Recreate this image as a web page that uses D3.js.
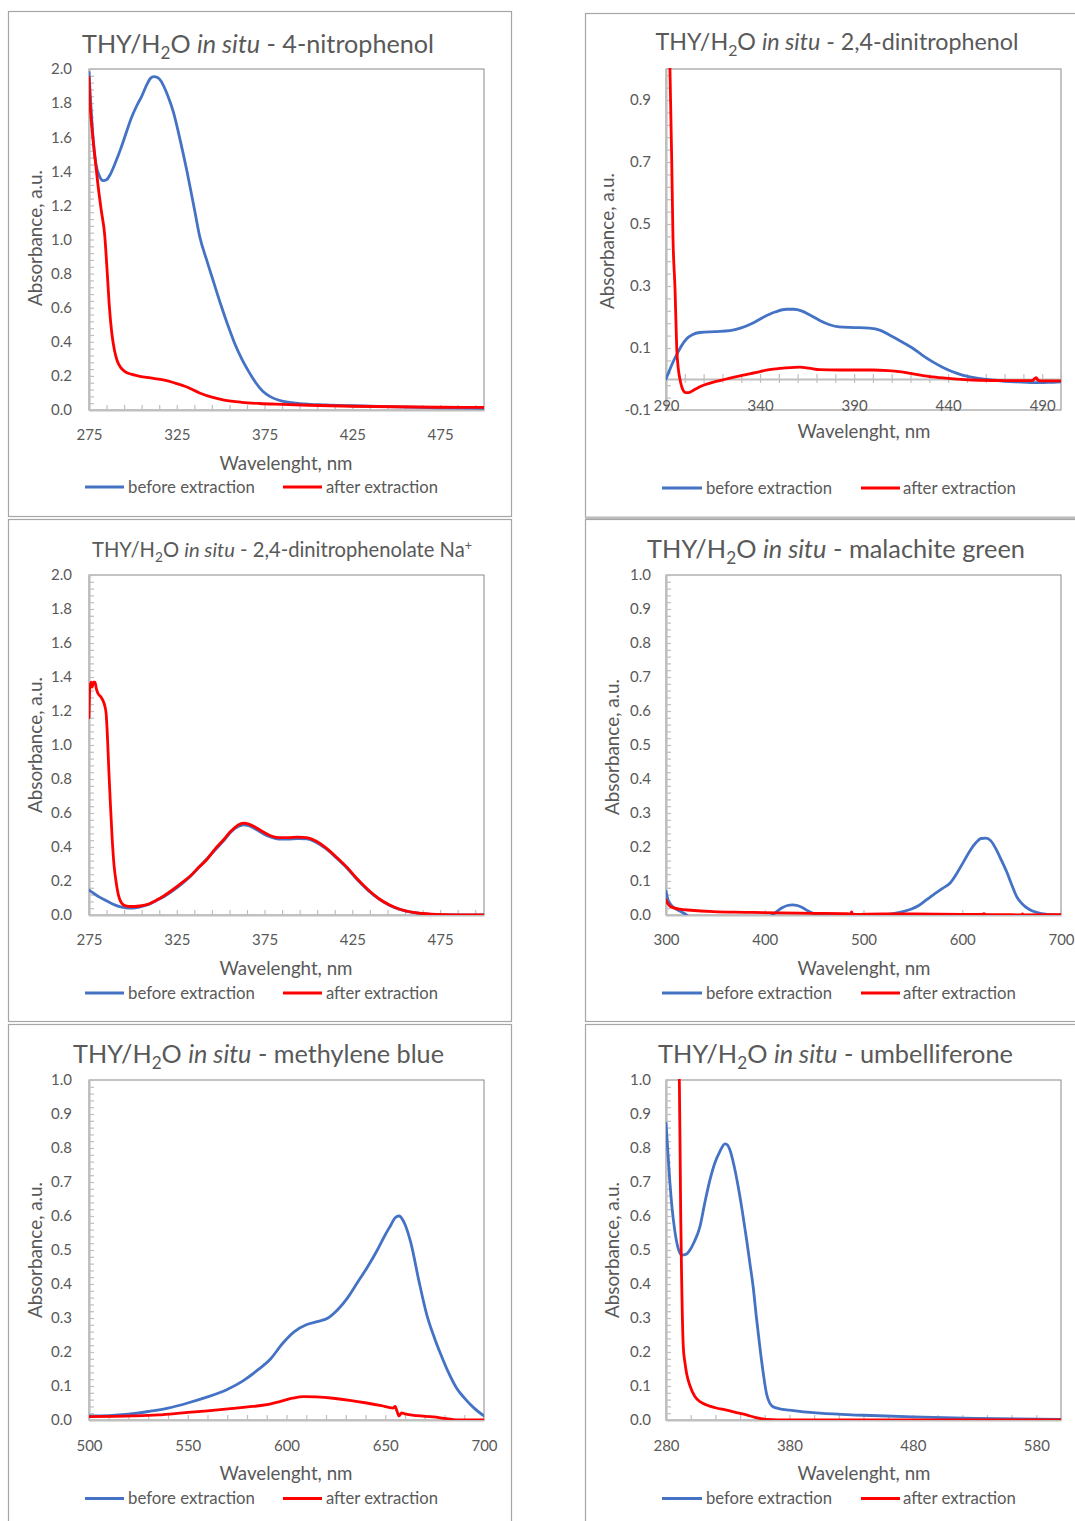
<!DOCTYPE html>
<html><head><meta charset="utf-8">
<script src="https://cdn.jsdelivr.net/npm/d3@7"></script>
<style>
body{margin:0;background:#fff}
svg{display:block}
text{font-family:Lato,'Open Sans',sans-serif;fill:#595959}
</style>
</head><body>
<svg id="c" width="1075" height="1521"></svg>
<script>
// ---------- DATA ----------
const seriesNames = ["before extraction", "after extraction"];
const axisTitleX = "Wavelenght, nm";
const axisTitleY = "Absorbance, a.u.";

// Panel 1: 4-nitrophenol
const nitroX = [275, 325, 375, 425, 475];
const nitroY = [0, 0.2, 0.4, 0.6, 0.8, 1.0, 1.2, 1.4, 1.6, 1.8, 2.0];
const nitroBefore = [[275,1.98],[276,1.80],[277,1.64],[278,1.52],[279,1.44],[281,1.37],[283,1.345],[285,1.35],[287,1.38],[290,1.45],[293,1.53],[296,1.62],[299,1.71],[302,1.78],[305,1.84],[308,1.91],[310,1.945],[312,1.955],[314,1.95],[316,1.93],[318,1.89],[320,1.84],[323,1.75],[327,1.58],[331,1.39],[335,1.18],[338,1.02],[342,0.88],[346,0.75],[350,0.62],[354,0.50],[358,0.39],[362,0.30],[366,0.225],[370,0.16],[374,0.11],[378,0.08],[385,0.052],[395,0.038],[410,0.03],[425,0.025],[450,0.018],[475,0.013],[500,0.01]];
const nitroAfter = [[275,1.95],[275.6,1.80],[277,1.62],[278.5,1.47],[280,1.33],[282,1.17],[284,1.02],[285.3,0.82],[286.5,0.62],[288,0.45],[289.5,0.35],[291,0.29],[293,0.25],[295.5,0.225],[299,0.21],[304,0.197],[310,0.188],[318,0.175],[324,0.158],[330,0.138],[338,0.10],[345,0.075],[352,0.058],[362,0.045],[372,0.038],[385,0.033],[400,0.028],[425,0.022],[450,0.019],[475,0.016],[500,0.015]];

// Panel 2: 2,4-dinitrophenol
const dnpX = [290, 340, 390, 440, 490];
const dnpY = [-0.1, 0.1, 0.3, 0.5, 0.7, 0.9];
const dnpBefore = [[290,0.0],[292,0.03],[294,0.058],[296,0.082],[298,0.105],[301,0.13],[304,0.143],[308,0.15],[316,0.153],[324,0.156],[330,0.165],[336,0.18],[342,0.2],[348,0.216],[354,0.225],[358,0.225],[362,0.22],[367,0.205],[372,0.188],[377,0.175],[382,0.168],[390,0.166],[398,0.164],[404,0.157],[410,0.138],[416,0.118],[421,0.10],[426,0.078],[431.6,0.056],[437,0.038],[442,0.024],[448,0.012],[456,0.002],[465,-0.004],[475,-0.009],[486,-0.012],[493,-0.011],[500,-0.009]];
const dnpAfter = [[290.8,1.3],[292.1,1.0],[293,0.72],[293.7,0.46],[294.8,0.29],[295.7,0.10],[296.6,0.03],[297.4,0.0],[299,-0.035],[300.5,-0.044],[302,-0.044],[305,-0.035],[308,-0.025],[313,-0.014],[318.6,-0.005],[324,0.003],[329.3,0.01],[335,0.017],[340,0.024],[345,0.03],[350.5,0.034],[356,0.037],[361,0.038],[366,0.035],[371.7,0.03],[382,0.029],[390,0.029],[400,0.029],[408,0.027],[414,0.024],[422,0.016],[431.6,0.007],[440,0.002],[456.6,-0.004],[470,-0.005],[484.7,-0.005],[485.8,0.0],[486.8,0.004],[487.8,-0.004],[489,-0.006],[500,-0.006]];

// Panel 3: 2,4-dinitrophenolate Na+
const dnpNaX = [275, 325, 375, 425, 475];
const dnpNaY = [0, 0.2, 0.4, 0.6, 0.8, 1.0, 1.2, 1.4, 1.6, 1.8, 2.0];
const dnpNaBefore = [[275,0.147],[278,0.125],[281,0.105],[284,0.088],[287,0.072],[290,0.058],[293,0.048],[296,0.042],[299,0.04],[302,0.043],[305,0.05],[309,0.062],[313,0.083],[318,0.11],[323,0.145],[328,0.185],[333,0.23],[338,0.285],[343,0.34],[348,0.395],[352,0.44],[356,0.49],[360,0.52],[363,0.53],[366,0.525],[370,0.505],[374,0.48],[378,0.46],[383,0.447],[388,0.447],[394,0.45],[399,0.448],[404,0.43],[410,0.39],[416,0.335],[422,0.275],[428,0.205],[434,0.145],[440,0.095],[446,0.058],[452,0.033],[460,0.014],[470,0.004],[485,0.001],[500,0.0]];
const dnpNaAfter = [[275,1.16],[275.5,1.34],[276.2,1.37],[276.8,1.34],[277.5,1.37],[278.4,1.37],[279.2,1.33],[280.3,1.30],[282,1.28],[283,1.26],[284,1.23],[284.8,1.18],[285.5,1.05],[286.3,0.85],[287.2,0.65],[288.2,0.45],[289.2,0.30],[290.5,0.19],[291.7,0.12],[293,0.08],[294.4,0.061],[296.5,0.052],[298.5,0.05],[301,0.05],[304,0.053],[309,0.065],[313.6,0.088],[318,0.115],[322.9,0.15],[328,0.19],[332.5,0.228],[338,0.285],[342,0.325],[347,0.39],[351.4,0.44],[356,0.495],[360,0.53],[363,0.54],[366,0.535],[370,0.515],[374,0.49],[378,0.468],[383,0.455],[388,0.455],[394,0.458],[399,0.455],[404,0.437],[410,0.395],[416,0.34],[422,0.28],[428,0.21],[434,0.148],[440,0.097],[446,0.06],[452,0.034],[460,0.015],[470,0.005],[485,0.001],[500,0.0]];

// Panel 4: malachite green
const mgX = [300, 400, 500, 600, 700];
const mgY = [0, 0.1, 0.2, 0.3, 0.4, 0.5, 0.6, 0.7, 0.8, 0.9, 1.0];
const mgBefore = [[300,0.07],[302,0.045],[305,0.03],[310,0.018],[315,0.01],[320,0.002],[323,-0.005],[330,-0.02],[350,-0.03],[380,-0.025],[400,-0.012],[408,0.0],[413,0.012],[418,0.022],[423,0.028],[428,0.03],[433,0.028],[438,0.022],[444,0.012],[450,0.004],[456,0.0],[470,-0.003],[490,-0.003],[510,-0.002],[520,0.0],[530,0.004],[540,0.01],[548,0.017],[556,0.028],[564,0.045],[571,0.06],[580,0.078],[588,0.095],[595,0.125],[602,0.16],[608,0.19],[614,0.213],[619,0.225],[624,0.226],[629,0.218],[634,0.195],[639,0.165],[645,0.127],[650,0.09],[655,0.055],[660,0.035],[668,0.016],[676,0.007],[686,0.002],[700,0.0]];
const mgAfter = [[300,0.044],[302,0.033],[304,0.026],[308,0.021],[314,0.017],[325,0.014],[348,0.01],[380,0.008],[416,0.006],[450,0.005],[483,0.004],[487,0.003],[488,0.009],[489,0.002],[520,0.003],[551,0.003],[600,0.002],[620,0.002],[622,0.004],[624,0.001],[650,0.001],[660,0.0],[661,0.003],[662,0.0],[700,0.001]];

// Panel 5: methylene blue
const mbX = [500, 550, 600, 650, 700];
const mbY = [0, 0.1, 0.2, 0.3, 0.4, 0.5, 0.6, 0.7, 0.8, 0.9, 1.0];
const mbBefore = [[500,0.012],[510,0.013],[520,0.017],[530,0.025],[540,0.035],[550,0.05],[560,0.068],[570,0.09],[578,0.115],[585,0.145],[592,0.18],[598,0.225],[604,0.26],[610,0.28],[616,0.29],[621,0.3],[626,0.325],[631,0.36],[636,0.405],[641,0.45],[646,0.5],[650,0.545],[653,0.575],[655,0.595],[657,0.6],[660,0.575],[663,0.52],[667,0.41],[671,0.31],[675,0.24],[678,0.195],[682,0.14],[686,0.095],[690,0.065],[695,0.035],[700,0.012]];
const mbAfter = [[500,0.01],[522,0.012],[535,0.015],[547.6,0.021],[560,0.027],[573,0.034],[583,0.04],[590,0.045],[597,0.055],[603,0.064],[608.5,0.069],[615,0.068],[623.7,0.064],[632,0.058],[640.6,0.05],[648,0.042],[654,0.035],[655,0.04],[656,0.025],[657,0.012],[658.3,0.021],[660,0.018],[666,0.013],[674.3,0.009],[681,0.004],[688,0.0],[700,0.0]];

// Panel 6: umbelliferone
const umbX = [280, 380, 480, 580];
const umbY = [0, 0.1, 0.2, 0.3, 0.4, 0.5, 0.6, 0.7, 0.8, 0.9, 1.0];
const umbBefore = [[280,0.873],[281.5,0.79],[283,0.706],[285,0.62],[287,0.56],[289.5,0.51],[292.7,0.485],[296,0.487],[299.4,0.50],[303,0.525],[307.5,0.569],[311.5,0.64],[315.6,0.706],[319.5,0.755],[323.7,0.79],[327.7,0.812],[329.5,0.81],[331.8,0.794],[335,0.75],[338.5,0.686],[342,0.61],[345.3,0.53],[348,0.46],[350.6,0.392],[353.3,0.3],[356,0.216],[358.7,0.14],[361.4,0.078],[364,0.05],[366.7,0.039],[372,0.033],[380,0.029],[404.5,0.02],[440,0.014],[480,0.009],[530,0.005],[600,0.002]];
const umbAfter = [[290,1.3],[290.8,1.0],[291.4,0.8],[291.9,0.608],[292.7,0.41],[294,0.216],[295.3,0.17],[296.7,0.137],[299.5,0.1],[303.4,0.069],[308,0.053],[312.9,0.044],[320,0.036],[329,0.029],[337,0.022],[345.2,0.015],[352,0.008],[361.4,0.002],[380,0.0],[404,0.0],[600,0.0]];

// Titles (rich text parts)
const titleNitro = [{t:"THY/H"},{t:"2",sub:1},{t:"O "},{t:"in situ",it:1},{t:" - 4-nitrophenol"}];
const titleDnp = [{t:"THY/H"},{t:"2",sub:1},{t:"O "},{t:"in situ",it:1},{t:" - 2,4-dinitrophenol"}];
const titleDnpNa = [{t:"THY/H"},{t:"2",sub:1},{t:"O "},{t:"in situ",it:1},{t:" - 2,4-dinitrophenolate Na"},{t:"+",sup:1}];
const titleMg = [{t:"THY/H"},{t:"2",sub:1},{t:"O "},{t:"in situ",it:1},{t:" - malachite green"}];
const titleMb = [{t:"THY/H"},{t:"2",sub:1},{t:"O "},{t:"in situ",it:1},{t:" - methylene blue"}];
const titleUmb = [{t:"THY/H"},{t:"2",sub:1},{t:"O "},{t:"in situ",it:1},{t:" - umbelliferone"}];

// ---------- LAYOUT ----------
const BLUE = "#4472C4", RED = "#FF0000";
const L = {lx:[85,124,128,283,322,326], lw:[127,112]};
const R = {lx:[662,702,706,861,900,903], lw:[126,113]};
const panels = [
 {frame:[8.5,11.5,503,505], plot:[89,69,484,410], xDom:[275,500], xT:nitroX, xMinor:10, yDom:[0,2], yT:nitroY, yMinor:0.04, yLabR:72, xLabBase:440, title:titleNitro, tCx:258, tBase:53, tW:352, xtY:470, xtCx:286, ytX:34, ytCy:238, legY:487, leg:L, data:[nitroBefore,nitroAfter]},
 {frame:[585.5,13.5,500,504], plot:[666,69,1061,410], xDom:[290,500], xT:dnpX, xMinor:10, yDom:[-0.1,1.0], yT:dnpY, yMinor:0.04, yLabR:651, xLabBase:410.5, xAxisAt0:true, title:titleDnp, tCx:837, tBase:50, tW:363, xtY:438, xtCx:864, ytX:606, ytCy:241, legY:488, leg:R, data:[dnpBefore,dnpAfter], thickBottom:true},
 {frame:[8.5,519.5,503,502], plot:[89,575,484,915], xDom:[275,500], xT:dnpNaX, xMinor:10, yDom:[0,2], yT:dnpNaY, yMinor:0.04, yLabR:72, xLabBase:945, title:titleDnpNa, tCx:282, tBase:557, tW:380, xtY:975, xtCx:286, ytX:34, ytCy:745, legY:993, leg:L, data:[dnpNaBefore,dnpNaAfter]},
 {frame:[585.5,519.5,500,502], plot:[666,575,1061,915], xDom:[300,700], xT:mgX, xMinor:100, yDom:[0,1], yT:mgY, yMinor:0.02, yLabR:651, xLabBase:945, title:titleMg, tCx:836, tBase:558, tW:378, xtY:975, xtCx:864, ytX:611, ytCy:747, legY:993, leg:R, data:[mgBefore,mgAfter]},
 {frame:[8.5,1024.5,503,510], plot:[89,1080,484,1420], xDom:[500,700], xT:mbX, xMinor:10, yDom:[0,1], yT:mbY, yMinor:0.02, yLabR:72, xLabBase:1451, title:titleMb, tCx:258.5, tBase:1063, tW:371, xtY:1480, xtCx:286, ytX:34, ytCy:1250, legY:1498.5, leg:L, data:[mbBefore,mbAfter]},
 {frame:[585.5,1024.5,500,510], plot:[666,1080,1061,1420], xDom:[280,600], xT:umbX, xMinor:20, yDom:[0,1], yT:umbY, yMinor:0.02, yLabR:651, xLabBase:1451, title:titleUmb, tCx:835.5, tBase:1063, tW:355, xtY:1480, xtCx:864, ytX:611, ytCy:1250, legY:1498.5, leg:R, data:[umbBefore,umbAfter]}
];

const svg = d3.select("#c");
const AX = "#bfbfbf", BORDER = "#8a8a8a", FRAME = "#a6a6a6";
const fmtY = d => d.toFixed(1);

function fit(sel, target) {
  const w = sel.node().getComputedTextLength();
  const fs = parseFloat(sel.attr("font-size"));
  sel.attr("font-size", (fs * target / w).toFixed(2));
}

panels.forEach((p, i) => {
  const g = svg.append("g");
  const [fx, fy, fw, fh] = p.frame;
  g.append("rect").attr("x", fx).attr("y", fy).attr("width", fw).attr("height", fh)
    .attr("fill", "#fff").attr("stroke", FRAME).attr("stroke-width", 1.2);
  if (p.thickBottom) g.append("line").attr("x1", fx).attr("x2", fx + fw).attr("y1", fy + fh + 0.5).attr("y2", fy + fh + 0.5)
    .attr("stroke", "#bdbdbd").attr("stroke-width", 3);

  const [l, t, r, b] = p.plot;
  const x = d3.scaleLinear().domain(p.xDom).range([l, r]);
  const y = d3.scaleLinear().domain(p.yDom).range([b, t]);

  g.append("rect").attr("x", l).attr("y", t).attr("width", r - l).attr("height", b - t)
    .attr("fill", "none").attr("stroke", BORDER).attr("stroke-width", 1);

  const yMin = d3.range(p.yDom[0], p.yDom[1] + 1e-9, p.yMinor);
  const ya = g.append("g").attr("transform", `translate(${l},0)`)
    .call(d3.axisLeft(y).tickValues(yMin).tickSizeInner(-5).tickSizeOuter(0).tickFormat(""));
  ya.select(".domain").attr("stroke", AX).attr("stroke-width", 2.2);
  ya.selectAll(".tick line").attr("stroke", AX).attr("stroke-width", 1.2);
  const yl = g.append("g").attr("transform", `translate(${l},0)`)
    .call(d3.axisLeft(y).tickValues(p.yT).tickSize(0).tickPadding(l - p.yLabR).tickFormat(fmtY));
  yl.select(".domain").remove();
  yl.selectAll("text").attr("font-size", 15).attr("fill", "#595959").attr("font-family", null);

  const xAxisY = p.xAxisAt0 ? y(0) : b;
  const xMin = d3.range(p.xDom[0], p.xDom[1] + 1e-9, p.xMinor);
  const xa = g.append("g").attr("transform", `translate(0,${xAxisY})`)
    .call(d3.axisBottom(x).tickValues(xMin).tickSizeInner(-5).tickSizeOuter(0).tickFormat(""));
  xa.select(".domain").attr("stroke", AX).attr("stroke-width", 2);
  xa.selectAll(".tick line").attr("stroke", AX).attr("stroke-width", 1.2);
  if (p.xAxisAt0) {
    const xb = g.append("g").attr("transform", `translate(0,${xAxisY})`)
      .call(d3.axisBottom(x).tickValues(xMin).tickSizeInner(4).tickSizeOuter(0).tickFormat(""));
    xb.select(".domain").remove();
    xb.selectAll(".tick line").attr("stroke", AX).attr("stroke-width", 1.2);
  }
  const xl = g.append("g").attr("transform", `translate(0,${p.xLabBase})`)
    .call(d3.axisBottom(x).tickValues(p.xT).tickSize(0).tickFormat(d3.format("d")));
  xl.select(".domain").remove();
  xl.selectAll("text").attr("y", 0).attr("dy", 0).attr("font-size", 15).attr("fill", "#595959").attr("font-family", null);

  const cid = "clip" + i;
  g.append("clipPath").attr("id", cid).append("rect")
    .attr("x", l).attr("y", t - 1).attr("width", r - l).attr("height", b - t + 1);
  const line = d3.line().x(d => x(d[0])).y(d => y(d[1])).curve(d3.curveMonotoneX);
  const cols = [BLUE, RED];
  p.data.forEach((s, k) => {
    g.append("path").datum(s).attr("clip-path", `url(#${cid})`)
      .attr("d", line).attr("fill", "none").attr("stroke", cols[k])
      .attr("stroke-width", 2.8).attr("stroke-linejoin", "round").attr("stroke-linecap", "round");
  });

  const tt = g.append("text").attr("x", p.tCx).attr("y", p.tBase).attr("text-anchor", "middle").attr("font-size", 22);
  let shifted = 0;
  p.title.forEach(part => {
    const ts = tt.append("tspan").text(part.t);
    if (part.it) ts.attr("font-style", "italic");
    if (part.sub) { ts.attr("font-size", "0.68em").attr("dy", "0.36em"); shifted = 0.245; }
    else if (part.sup) { ts.attr("font-size", "0.62em").attr("dy", "-0.55em"); }
    else if (shifted) { ts.attr("dy", (-shifted) + "em"); shifted = 0; }
  });
  fit(tt, p.tW);

  const xt = g.append("text").attr("x", p.xtCx).attr("y", p.xtY).attr("text-anchor", "middle")
    .attr("font-size", 17).text(axisTitleX);
  fit(xt, 133);
  const yt = g.append("text").attr("transform", `translate(${p.ytX},${p.ytCy}) rotate(-90)`)
    .attr("text-anchor", "middle").attr("dominant-baseline", "central").attr("font-size", 16).text(axisTitleY);
  fit(yt, 136);

  const lg = p.leg.lx;
  [[lg[0], lg[1], lg[2], 0], [lg[3], lg[4], lg[5], 1]].forEach(([a, c, tx, k]) => {
    g.append("line").attr("x1", a).attr("x2", c).attr("y1", p.legY).attr("y2", p.legY)
      .attr("stroke", cols[k]).attr("stroke-width", 2.8);
    const lt = g.append("text").attr("x", tx).attr("y", p.legY + 5.5).attr("font-size", 15).text(seriesNames[k]);
    fit(lt, p.leg.lw[k]);
  });
});
</script>
</body></html>
